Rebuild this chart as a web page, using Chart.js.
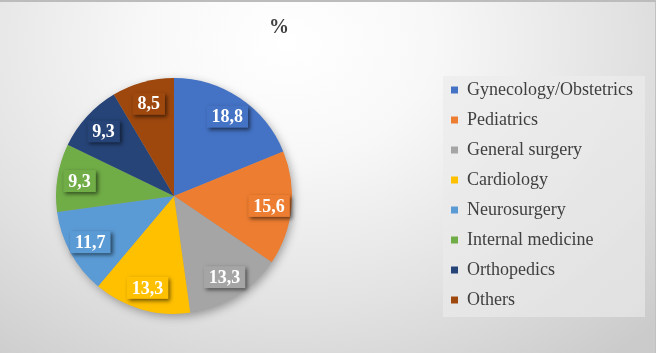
<!DOCTYPE html>
<html>
<head>
<meta charset="utf-8">
<script src="https://cdn.jsdelivr.net/npm/chart.js@4.4.1/dist/chart.umd.min.js"></script>
<style>
  html, body { margin: 0; padding: 0; background: #ffffff; }
  #wrap {
    position: relative; width: 656px; height: 353px; overflow: hidden;
    background: radial-gradient(ellipse 78% 115% at 44% 12%, #ffffff 0%, #f8f8f8 28%, #e2e2e2 66%, #cbcbcb 100%);
    box-shadow: inset 0 2px 0 #bcbcbc, inset -1px 0 0 #c2c2c2;
  }
  canvas { position: absolute; left: 0; top: 0; }
</style>
</head>
<body>
<div id="wrap"><canvas id="c" width="656" height="353"></canvas></div>
<script>
const titleText = '%';
const categories = ['Gynecology/Obstetrics', 'Pediatrics', 'General surgery', 'Cardiology', 'Neurosurgery', 'Internal medicine', 'Orthopedics', 'Others'];
const values = [18.8, 15.6, 13.3, 13.3, 11.7, 9.3, 9.3, 8.5];
const colors = ['#4472C4', '#ED7D31', '#A5A5A5', '#FFC000', '#5B9BD5', '#70AD47', '#264478', '#9E480E'];

const fmt = v => v.toFixed(1).replace('.', ',');

const fixLayout = {
  id: 'fixLayout',
  afterLayout(chart) {
    const ca = chart.chartArea;
    ca.left = 56; ca.right = 292; ca.top = 78; ca.bottom = 314;
    ca.width = 236; ca.height = 236;
    const lg = chart.legend;
    if (lg) {
      lg.left = 439; lg.right = 650; lg.top = 66; lg.bottom = 324;
      lg.width = lg.right - lg.left; lg.height = lg.bottom - lg.top;
    }
    const t = chart.titleBlock;
    if (t) {
      t.left = 0; t.right = 558; t.top = 16; t.bottom = 40;
      t.width = 558; t.height = 24;
    }
  },
  beforeDraw(chart) {
    const ctx = chart.ctx;
    ctx.save();
    const g = ctx.createLinearGradient(443, 76, 645, 317);
    g.addColorStop(0, 'rgba(238,238,238,0.9)');
    g.addColorStop(1, 'rgba(226,226,226,0.9)');
    ctx.fillStyle = g;
    ctx.fillRect(443, 76, 202, 241);
    ctx.restore();
  }
};

const pieShadow = {
  id: 'pieShadow',
  beforeDatasetsDraw(chart) {
    const arc = chart.getDatasetMeta(0).data[0];
    if (!arc) return;
    const p = arc.getProps(['x', 'y', 'outerRadius'], true);
    const ctx = chart.ctx;
    ctx.save();
    ctx.shadowColor = 'rgba(0,0,0,0.35)';
    ctx.shadowBlur = 10;
    ctx.shadowOffsetX = 2;
    ctx.shadowOffsetY = 3;
    ctx.fillStyle = '#999999';
    ctx.beginPath();
    ctx.arc(p.x, p.y, p.outerRadius - 0.5, 0, Math.PI * 2);
    ctx.fill();
    ctx.restore();
  }
};

const dataLabels = {
  id: 'dataLabels',
  afterDatasetsDraw(chart) {
    const ctx = chart.ctx;
    const meta = chart.getDatasetMeta(0);
    meta.data.forEach((arc, i) => {
      const p = arc.getProps(['x', 'y', 'startAngle', 'endAngle', 'outerRadius'], true);
      const mid = (p.startAngle + p.endAngle) / 2;
      const r = p.outerRadius * 0.81;
      const cx = p.x + Math.cos(mid) * r;
      const cy = p.y + Math.sin(mid) * r;
      const text = fmt(values[i]);
      ctx.save();
      ctx.font = 'bold 18px "Liberation Serif", "Times New Roman", serif';
      const tw = ctx.measureText(text).width;
      const w = tw + 10, h = 22;
      ctx.shadowColor = 'rgba(0,0,0,0.55)';
      ctx.shadowBlur = 4;
      ctx.shadowOffsetX = 2;
      ctx.shadowOffsetY = 2;
      ctx.fillStyle = colors[i];
      ctx.fillRect(cx - w / 2, cy - h / 2, w, h);
      ctx.restore();
      ctx.save();
      ctx.font = 'bold 18px "Liberation Serif", "Times New Roman", serif';
      ctx.fillStyle = '#ffffff';
      ctx.textAlign = 'center';
      ctx.textBaseline = 'middle';
      ctx.fillText(text, cx, cy + 1);
      ctx.restore();
    });
  }
};

new Chart(document.getElementById('c'), {
  type: 'pie',
  data: {
    labels: categories,
    datasets: [{
      data: values,
      backgroundColor: colors,
      borderWidth: 0
    }]
  },
  options: {
    responsive: false,
    animation: false,
    plugins: {
      tooltip: { enabled: false },
      title: {
        display: true,
        text: titleText,
        color: '#404040',
        padding: 0,
        font: { family: '"Liberation Serif", "Times New Roman", serif', size: 20, weight: 'bold', lineHeight: 1.2 }
      },
      legend: {
        display: true,
        position: 'right',
        align: 'center',
        labels: {
          color: '#404040',
          boxWidth: 7,
          boxHeight: 7,
          padding: 12,
          font: { family: '"Liberation Serif", "Times New Roman", serif', size: 18 }
        }
      }
    }
  },
  plugins: [fixLayout, pieShadow, dataLabels]
});
</script>
</body>
</html>
